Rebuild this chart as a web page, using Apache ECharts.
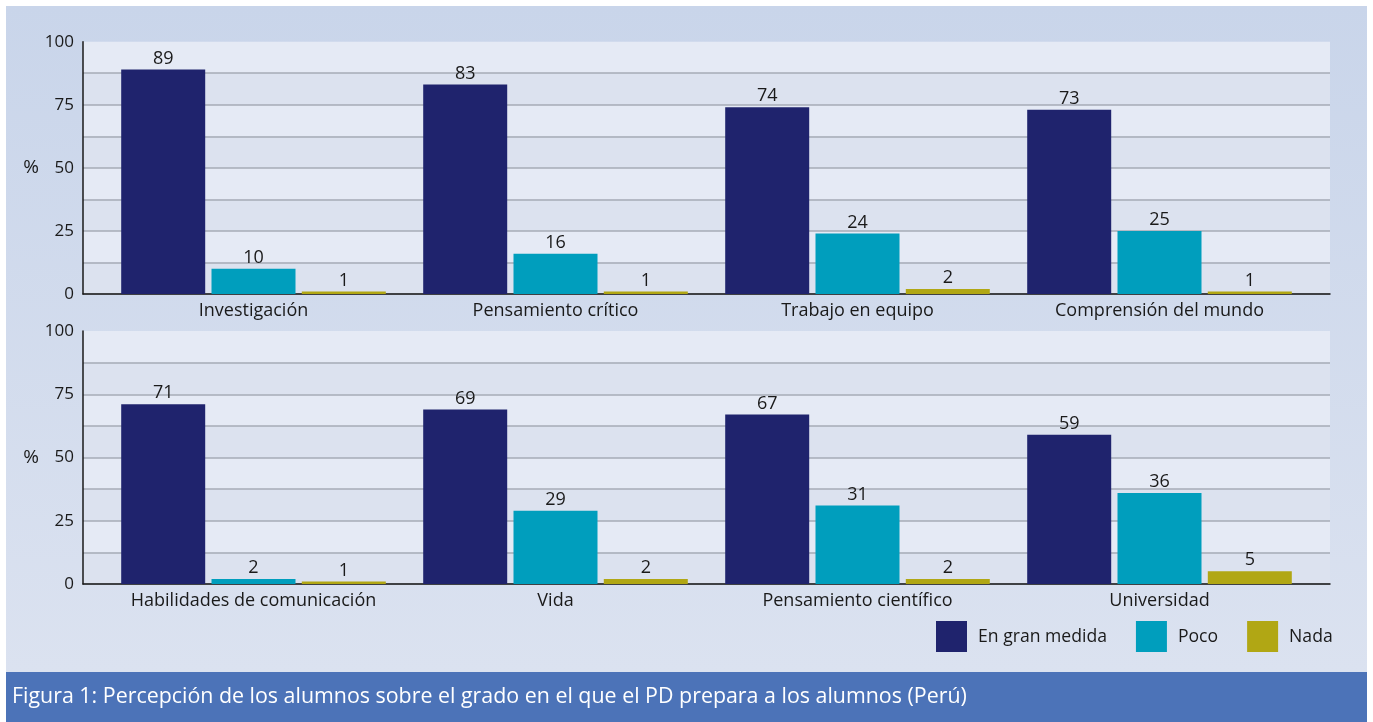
<!DOCTYPE html>
<html>
<head>
<meta charset="utf-8">
<script src="https://cdn.jsdelivr.net/npm/echarts@6/dist/echarts.min.js"></script>
<style>
html,body{margin:0;padding:0;background:#fff;}
#c{width:1373px;height:722px;}
</style>
</head>
<body>
<div id="c"></div>
<script>
const categoriesTop = ['Investigación', 'Pensamiento crítico', 'Trabajo en equipo', 'Comprensión del mundo'];
const categoriesBottom = ['Habilidades de comunicación', 'Vida', 'Pensamiento científico', 'Universidad'];
const seriesNames = ['En gran medida', 'Poco', 'Nada'];
const granMedidaTop = [89, 83, 74, 73];
const pocoTop = [10, 16, 24, 25];
const nadaTop = [1, 1, 2, 1];
const granMedidaBottom = [71, 69, 67, 59];
const pocoBottom = [2, 29, 31, 36];
const nadaBottom = [1, 2, 2, 5];
const captionText = 'Figura 1: Percepción de los alumnos sobre el grado en el que el PD prepara a los alumnos (Perú)';
const colors = ['#1f236d', '#009ebd', '#b1a714'];
const FONT = 'Open Sans';

const chart = echarts.init(document.getElementById('c'), null, {renderer: 'canvas'});

function bgYAxis(gridIndex) {
  return {
    type: 'value', gridIndex: gridIndex, min: 0, max: 100, interval: 12.5,
    name: '%', nameLocation: 'middle', nameRotate: 0, nameGap: 40,
    nameTextStyle: {fontFamily: FONT, fontSize: 19, color: '#1a1a1a'},
    axisLine: {show: true, lineStyle: {color: '#1a1a1a', width: 1.5}},
    axisTick: {show: false},
    axisLabel: {
      margin: 9, fontFamily: FONT, fontSize: 17, color: '#1a1a1a',
      formatter: function (v) { return v % 25 === 0 ? String(v) : ''; }
    },
    splitLine: {show: true, showMaxLine: false, lineStyle: {color: '#a6abb6', width: 1.5}},
    splitArea: {show: true, areaStyle: {color: ['#dce2ef', '#e5eaf5']}}
  };
}
function bgXAxis(gridIndex) {
  return {
    type: 'value', gridIndex: gridIndex, min: 0, max: 1,
    axisLine: {show: true, onZero: false, lineStyle: {color: '#1a1a1a', width: 1.5}},
    axisTick: {show: false}, axisLabel: {show: false}, splitLine: {show: false}
  };
}
function barXAxis(gridIndex, cats) {
  return {
    type: 'category', gridIndex: gridIndex, data: cats,
    axisLine: {show: false}, axisTick: {show: false},
    axisLabel: {margin: 8, fontFamily: FONT, fontSize: 18, color: '#1a1a1a', interval: 0}
  };
}
function barYAxis(gridIndex) {
  return {type: 'value', gridIndex: gridIndex, min: 0, max: 100, show: false};
}
function barSeries(name, data, idx, axisIdx) {
  return {
    type: 'bar', name: name, data: data, xAxisIndex: axisIdx, yAxisIndex: axisIdx,
    barWidth: 84, barGap: '7.5%',
    itemStyle: {color: colors[idx]},
    label: {show: true, position: 'top', distance: 2, fontFamily: FONT, fontSize: 18, color: '#1a1a1a'},
    z: 5
  };
}

const option = {
  animation: false,
  graphic: [
    {type: 'rect', z: -100, shape: {x: 6, y: 6, width: 1361, height: 666},
      style: {fill: new echarts.graphic.LinearGradient(0, 0, 0, 1, [
        {offset: 0, color: '#c9d5ea'}, {offset: 1, color: '#dbe2f0'}])}},
    {type: 'rect', z: -100, shape: {x: 6, y: 672, width: 1361, height: 50},
      style: {fill: '#4c73b8'}},
    {type: 'text', z: 10, x: 12, y: 697,
      style: {text: captionText, fill: '#ffffff', fontFamily: FONT, fontSize: 21.4,
        textVerticalAlign: 'middle', textAlign: 'left'}}
  ],
  legend: {
    data: seriesNames, left: 936, top: 621, padding: 0, itemWidth: 31, itemHeight: 31, itemGap: 29,
    icon: 'rect',
    textStyle: {fontFamily: FONT, fontSize: 17.6, color: '#1a1a1a', padding: [0, 0, 0, 6]}
  },
  grid: [
    {left: 83, width: 1247, top: 41.7, height: 252.3},
    {left: 102.5, width: 1208, top: 41.7, height: 252.3},
    {left: 83, width: 1247, top: 331, height: 253},
    {left: 102.5, width: 1208, top: 331, height: 253}
  ],
  xAxis: [bgXAxis(0), barXAxis(1, categoriesTop), bgXAxis(2), barXAxis(3, categoriesBottom)],
  yAxis: [bgYAxis(0), barYAxis(1), bgYAxis(2), barYAxis(3)],
  series: [
    barSeries(seriesNames[0], granMedidaTop, 0, 1),
    barSeries(seriesNames[1], pocoTop, 1, 1),
    barSeries(seriesNames[2], nadaTop, 2, 1),
    barSeries(seriesNames[0], granMedidaBottom, 0, 3),
    barSeries(seriesNames[1], pocoBottom, 1, 3),
    barSeries(seriesNames[2], nadaBottom, 2, 3)
  ]
};
chart.setOption(option);
</script>
</body>
</html>
